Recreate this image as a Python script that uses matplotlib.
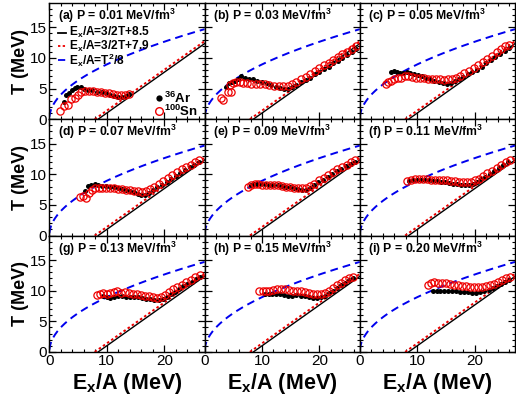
import numpy as np
import matplotlib
matplotlib.use("Agg")
import matplotlib.pyplot as plt

plt.rcParams['font.family'] = ['Liberation Sans', 'DejaVu Sans']
plt.rcParams['mathtext.fontset'] = 'custom'
plt.rcParams['mathtext.rm'] = 'Liberation Sans:bold'
plt.rcParams['mathtext.bf'] = 'Liberation Sans:bold'
plt.rcParams['mathtext.it'] = 'Liberation Sans:bold'

pressures = ['0.01', '0.03', '0.05', '0.07', '0.09', '0.11', '0.13', '0.15', '0.20']
letters = ['a', 'b', 'c', 'd', 'e', 'f', 'g', 'h', 'i']

# 36Ar (black dots) and 100Sn (red open circles), Ex/A vs T, one pair per panel
ar_a_ex = [2.5, 2.9, 3.4, 3.9, 4.4, 4.9, 5.5, 6.1, 6.8, 7.5, 8.3, 9.1, 9.9, 10.6, 11.3, 12.0, 12.7, 13.3, 13.9]
ar_a_t = [2.8, 4.0, 4.2, 4.8, 5.1, 5.3, 5.2, 5.0, 4.8, 4.7, 4.5, 4.4, 4.2, 4.0, 3.8, 3.6, 3.6, 3.8, 4.1]
sn_a_ex = [1.9, 2.5, 3.3, 3.7, 4.4, 5.0, 5.6, 6.2, 6.9, 7.6, 8.3, 9.0, 9.7, 10.4, 11.1, 11.8, 12.5, 13.2, 13.9]
sn_a_t = [1.3, 2.1, 2.4, 3.3, 3.5, 4.0, 4.4, 4.6, 4.6, 4.6, 4.5, 4.4, 4.3, 4.2, 4.1, 4.0, 3.9, 3.9, 4.1]

ar_b_ex = [3.8, 4.3, 4.8, 5.3, 5.9, 6.4, 7.0, 7.7, 8.4, 9.2, 10.0, 10.8, 11.6, 12.4, 13.2, 13.9, 14.6, 15.3,
           16.0, 16.8, 17.6, 18.4, 19.2, 20.0, 20.8, 21.6, 22.4, 23.2, 24.0, 24.8, 25.6, 26.3]
ar_b_t = [5.2, 5.9, 6.1, 6.3, 6.5, 7.0, 6.8, 6.6, 6.5, 6.3, 6.1, 5.9, 5.6, 5.3, 5.1, 4.9, 5.0, 5.3,
          5.6, 6.0, 6.4, 6.8, 7.3, 7.7, 8.2, 8.6, 9.1, 9.5, 10.0, 10.5, 11.0, 11.4]
sn_b_ex = [2.9, 3.3, 4.0, 4.4, 4.6, 4.9, 5.5, 6.1, 6.7, 7.4, 8.1, 8.9, 9.7, 10.5, 11.3, 12.1, 12.9, 13.7, 14.5,
           15.3, 16.0, 16.8, 17.6, 18.4, 19.2, 20.0, 20.8, 21.6, 22.4, 23.2, 24.0, 24.8, 25.6, 26.3]
sn_b_t = [3.5, 3.1, 4.4, 5.6, 4.4, 5.9, 6.0, 6.0, 5.9, 5.9, 5.8, 5.8, 5.7, 5.7, 5.6, 5.5, 5.4, 5.4, 5.5,
          5.8, 6.1, 6.5, 6.9, 7.4, 7.9, 8.3, 8.8, 9.2, 9.7, 10.2, 10.6, 11.0, 11.5, 11.9]

ar_c_ex = [5.4, 5.9, 6.4, 7.0, 7.6, 8.2, 8.8, 9.5, 10.2, 10.9, 11.6, 12.3, 13.0, 13.7, 14.4, 15.1, 15.8, 16.5,
           17.2, 18.0, 18.8, 19.6, 20.4, 21.2, 22.0, 22.8, 23.6, 24.4, 25.2, 26.0]
ar_c_t = [7.7, 7.8, 7.7, 7.6, 7.6, 7.7, 7.6, 7.4, 7.2, 7.0, 6.8, 6.6, 6.3, 6.1, 5.9, 5.8, 5.9, 6.2,
          6.5, 6.9, 7.3, 7.7, 8.1, 8.6, 9.1, 9.6, 10.1, 10.6, 11.1, 11.6]
sn_c_ex = [4.5, 5.0, 5.5, 6.0, 6.6, 7.2, 7.8, 8.4, 9.1, 9.8, 10.5, 11.2, 11.9, 12.6, 13.3, 14.0, 14.7, 15.4,
           16.1, 16.8, 17.5, 18.2, 19.0, 19.8, 20.6, 21.4, 22.2, 23.0, 23.8, 24.6, 25.3, 26.0]
sn_c_t = [5.7, 6.0, 6.3, 6.5, 6.7, 6.8, 7.0, 7.0, 6.9, 6.8, 6.8, 6.7, 6.6, 6.6, 6.5, 6.5, 6.4, 6.5,
          6.6, 6.8, 7.1, 7.5, 7.9, 8.4, 8.9, 9.4, 9.9, 10.4, 10.9, 11.4, 11.9, 12.1]

ar_d_ex = [6.3, 6.8, 7.3, 7.9, 8.5, 9.1, 9.8, 10.5, 11.2, 11.9, 12.6, 13.3, 14.0, 14.7, 15.4, 16.0, 16.6,
           17.3, 18.0, 18.8, 19.6, 20.4, 21.2, 22.0, 22.8, 23.6, 24.4, 25.2, 26.0]
ar_d_t = [7.3, 8.1, 8.3, 8.4, 8.3, 8.1, 8.1, 8.0, 8.0, 7.8, 7.6, 7.5, 7.3, 7.1, 6.8, 6.6, 6.7,
          7.0, 7.4, 7.9, 8.3, 8.8, 9.3, 9.7, 10.2, 10.7, 11.2, 11.6, 12.0]
sn_d_ex = [5.4, 5.9, 6.4, 6.9, 7.4, 8.0, 8.6, 9.2, 9.9, 10.6, 11.3, 12.0, 12.7, 13.4, 14.1, 14.8, 15.5, 16.2,
           16.9, 17.6, 18.3, 19.0, 19.8, 20.6, 21.4, 22.2, 23.0, 23.8, 24.6, 25.4, 26.1]
sn_d_t = [6.3, 6.4, 6.1, 6.9, 7.4, 7.7, 7.8, 7.8, 7.8, 7.8, 7.7, 7.6, 7.6, 7.5, 7.4, 7.3, 7.2, 7.1,
          7.3, 7.6, 8.0, 8.4, 8.9, 9.4, 9.9, 10.3, 10.8, 11.2, 11.6, 12.0, 12.3]

ar_e_ex = [8.0, 8.6, 9.2, 9.9, 10.6, 11.3, 12.0, 12.7, 13.4, 14.1, 14.8, 15.5, 16.2, 16.9, 17.6, 18.3, 19.0,
           19.8, 20.6, 21.4, 22.2, 23.0, 23.8, 24.6, 25.4, 26.1]
ar_e_t = [8.3, 8.5, 8.5, 8.4, 8.4, 8.3, 8.3, 8.2, 8.1, 8.0, 7.9, 7.8, 7.6, 7.5, 7.5, 7.8, 8.2,
          8.7, 9.1, 9.6, 10.0, 10.5, 10.9, 11.3, 11.7, 12.0]
sn_e_ex = [7.5, 8.1, 8.7, 9.3, 10.0, 10.7, 11.4, 12.1, 12.8, 13.5, 14.2, 14.9, 15.6, 16.3, 17.0, 17.7, 18.4,
           19.1, 19.9, 20.7, 21.5, 22.3, 23.1, 23.9, 24.7, 25.5, 26.2]
sn_e_t = [8.0, 8.2, 8.4, 8.4, 8.3, 8.3, 8.3, 8.2, 8.2, 8.1, 8.0, 7.9, 7.8, 7.7, 7.7, 7.8, 8.1,
          8.5, 9.0, 9.4, 9.9, 10.4, 10.8, 11.2, 11.6, 12.0, 12.3]

ar_f_ex = [8.5, 9.2, 9.9, 10.6, 11.3, 12.0, 12.7, 13.4, 14.1, 14.8, 15.5, 16.2, 16.9, 17.6, 18.3, 19.0, 19.7,
           20.4, 21.1, 21.8, 22.6, 23.4, 24.2, 25.0, 25.8]
ar_f_t = [8.9, 9.1, 9.1, 9.0, 9.0, 9.0, 8.9, 8.9, 8.8, 8.7, 8.6, 8.5, 8.4, 8.3, 8.2, 8.2, 8.4,
          8.8, 9.2, 9.6, 10.1, 10.6, 11.0, 11.5, 12.0]
sn_f_ex = [8.2, 8.9, 9.6, 10.3, 11.0, 11.7, 12.4, 13.1, 13.8, 14.5, 15.2, 15.9, 16.6, 17.3, 18.0, 18.7, 19.4,
           20.1, 20.8, 21.5, 22.2, 23.0, 23.8, 24.6, 25.4, 26.1]
sn_f_t = [8.9, 9.0, 9.2, 9.2, 9.2, 9.2, 9.1, 9.1, 9.1, 9.0, 9.0, 8.9, 8.9, 8.8, 8.7, 8.7, 8.8,
          9.0, 9.3, 9.7, 10.2, 10.6, 11.1, 11.6, 12.0, 12.4]

ar_g_ex = [9.4, 10.0, 10.6, 11.3, 12.0, 12.7, 13.4, 14.1, 14.8, 15.5, 16.2, 16.9, 17.6, 18.3, 19.0, 19.7,
           20.4, 21.1, 21.8, 22.5, 23.2, 24.0, 24.8, 25.6, 26.3]
ar_g_t = [9.1, 9.0, 8.8, 9.0, 9.1, 9.1, 9.0, 9.0, 8.9, 8.9, 8.8, 8.7, 8.6, 8.5, 8.4, 8.6,
          8.9, 9.4, 9.8, 10.3, 10.7, 11.1, 11.5, 11.9, 12.3]
sn_g_ex = [8.3, 8.8, 9.4, 10.0, 10.6, 11.2, 11.8, 12.5, 13.2, 13.9, 14.6, 15.3, 16.0, 16.7, 17.4, 18.1, 18.8,
           19.5, 20.2, 20.9, 21.6, 22.3, 23.0, 23.8, 24.6, 25.4, 26.2]
sn_g_t = [9.3, 9.4, 9.6, 9.5, 9.6, 9.8, 9.9, 9.7, 9.8, 9.6, 9.5, 9.4, 9.3, 9.2, 9.1, 8.9, 8.8,
          8.9, 9.3, 9.8, 10.2, 10.6, 11.0, 11.4, 11.8, 12.2, 12.6]

ar_h_ex = [10.6, 11.2, 11.8, 12.5, 13.2, 13.9, 14.6, 15.3, 16.0, 16.7, 17.4, 18.1, 18.8, 19.5, 20.2, 20.9,
           21.6, 22.3, 23.0, 23.7, 24.4, 25.1, 25.8]
ar_h_t = [9.4, 9.5, 9.5, 9.4, 9.4, 9.3, 9.1, 9.2, 9.3, 9.2, 9.1, 9.0, 8.8, 8.8, 8.9, 9.2,
          9.6, 10.0, 10.5, 10.9, 11.3, 11.7, 12.0]
sn_h_ex = [9.5, 10.1, 10.7, 11.3, 11.9, 12.6, 13.3, 14.0, 14.7, 15.4, 16.1, 16.8, 17.5, 18.2, 18.9, 19.6,
           20.3, 21.0, 21.7, 22.4, 23.1, 23.8, 24.5, 25.2, 25.9]
sn_h_t = [10.0, 9.9, 10.0, 10.0, 10.1, 10.2, 10.3, 10.2, 10.1, 10.0, 10.0, 9.9, 9.8, 9.6, 9.5, 9.4,
          9.4, 9.6, 10.0, 10.4, 10.9, 11.3, 11.7, 12.0, 12.3]

ar_i_ex = [12.8, 13.4, 14.0, 14.7, 15.4, 16.1, 16.8, 17.5, 18.2, 18.9, 19.6, 20.3, 21.0, 21.7, 22.4, 23.1,
           23.8, 24.5, 25.2, 25.9]
ar_i_t = [9.9, 10.0, 10.0, 10.0, 9.9, 9.9, 9.9, 9.8, 9.8, 9.8, 9.7, 9.7, 9.8, 9.9, 10.1, 10.4,
          10.8, 11.1, 11.5, 11.8]
sn_i_ex = [11.8, 12.4, 13.0, 13.6, 14.3, 15.0, 15.7, 16.4, 17.1, 17.8, 18.5, 19.2, 19.9, 20.6, 21.3, 22.0,
           22.7, 23.4, 24.1, 24.8, 25.5, 26.1]
sn_i_t = [10.9, 11.2, 11.4, 11.2, 11.2, 11.2, 11.1, 11.0, 10.9, 10.8, 10.7, 10.6, 10.6, 10.6, 10.6, 10.7,
          10.9, 11.1, 11.4, 11.7, 12.0, 12.3]

ar_ex = [ar_a_ex, ar_b_ex, ar_c_ex, ar_d_ex, ar_e_ex, ar_f_ex, ar_g_ex, ar_h_ex, ar_i_ex]
ar_t = [ar_a_t, ar_b_t, ar_c_t, ar_d_t, ar_e_t, ar_f_t, ar_g_t, ar_h_t, ar_i_t]
sn_ex = [sn_a_ex, sn_b_ex, sn_c_ex, sn_d_ex, sn_e_ex, sn_f_ex, sn_g_ex, sn_h_ex, sn_i_ex]
sn_t = [sn_a_t, sn_b_t, sn_c_t, sn_d_t, sn_e_t, sn_f_t, sn_g_t, sn_h_t, sn_i_t]

# reference lines: Ex/A = 3/2 T + c and Ex/A = T^2/8
offset_black = 8.5
offset_red = 7.9
fermi_a = 8.0

fig, axes = plt.subplots(3, 3, figsize=(5.16, 4.05), dpi=100, sharex=True, sharey=True)
fig.subplots_adjust(left=0.0955, right=0.998, top=0.993, bottom=0.131, wspace=0, hspace=0)

ex_grid = np.linspace(0.02, 27, 300)
for k, ax in enumerate(axes.flat):
    ax.plot(ex_grid, np.sqrt(fermi_a * ex_grid), color='#0000ee', ls=(0, (4, 2.6)), lw=1.4, zorder=2)
    tline = np.linspace(0, 19, 50)
    ax.plot(1.5 * tline + offset_red, tline, color='#ee0000', ls=(0, (1.3, 1.3)), lw=1.4, zorder=2)
    ax.plot(1.5 * tline + offset_black, tline, color='black', lw=1.0, zorder=2)
    ax.plot(ar_ex[k], ar_t[k], 'o', color='black', ms=3.6, mew=0, zorder=3)
    ax.plot(sn_ex[k], sn_t[k], 'o', mfc='none', mec='#ee0000', ms=5.2, mew=0.9, zorder=4)

    ax.set_xlim(0, 27)
    ax.set_ylim(0, 19)
    ax.set_xticks([0, 10, 20])
    ax.set_xticks(np.arange(0, 27, 2), minor=True)
    ax.set_yticks([0, 5, 10, 15])
    ax.set_yticks(np.arange(0, 19, 1), minor=True)
    ax.tick_params(which='both', direction='in', top=True, right=True, labelsize=11, pad=1.5)
    ax.tick_params(which='major', length=5, width=0.9)
    ax.tick_params(which='minor', length=2.5, width=0.8)
    for sp in ax.spines.values():
        sp.set_linewidth(1.0)
    ax.text(0.055, 0.965, '(%s) P = %s MeV/fm$^{3}$' % (letters[k], pressures[k]),
            transform=ax.transAxes, ha='left', va='top', fontsize=8.8, fontweight='bold')

    if k % 3 == 0:
        ax.set_ylabel('T (MeV)', fontsize=13, fontweight='bold', labelpad=1)
    if k >= 6:
        ax.set_xlabel('E$_{x}$/A (MeV)', fontsize=15.5, fontweight='bold', labelpad=2)

# legends in panel (a)
ax = axes[0, 0]
leg_lines = [('black', '-', 'E$_{x}$/A=3/2T+8.5'),
             ('#ee0000', (0, (1.3, 1.3)), 'E$_{x}$/A=3/2T+7.9'),
             ('#0000ee', (0, (4, 2.6)), 'E$_{x}$/A=T$^{2}$/8')]
for j, (c, ls, lab) in enumerate(leg_lines):
    yy = 0.745 - j * 0.12
    ax.plot([0.055, 0.11], [yy, yy], color=c, ls=ls, lw=1.3, transform=ax.transAxes)
    ax.text(0.125, yy, lab, transform=ax.transAxes, ha='left', va='center', fontsize=8.6, fontweight='bold')
ax.plot([0.705], [0.18], 'o', color='black', ms=4.5, mew=0, transform=ax.transAxes)
ax.text(0.74, 0.18, '$^{36}$Ar', transform=ax.transAxes, ha='left', va='center', fontsize=9.5, fontweight='bold')
ax.plot([0.705], [0.07], 'o', mfc='none', mec='#ee0000', ms=5.5, mew=1.0, transform=ax.transAxes)
ax.text(0.74, 0.07, '$^{100}$Sn', transform=ax.transAxes, ha='left', va='center', fontsize=9.5, fontweight='bold')

fig.savefig('out.png', dpi=100)
